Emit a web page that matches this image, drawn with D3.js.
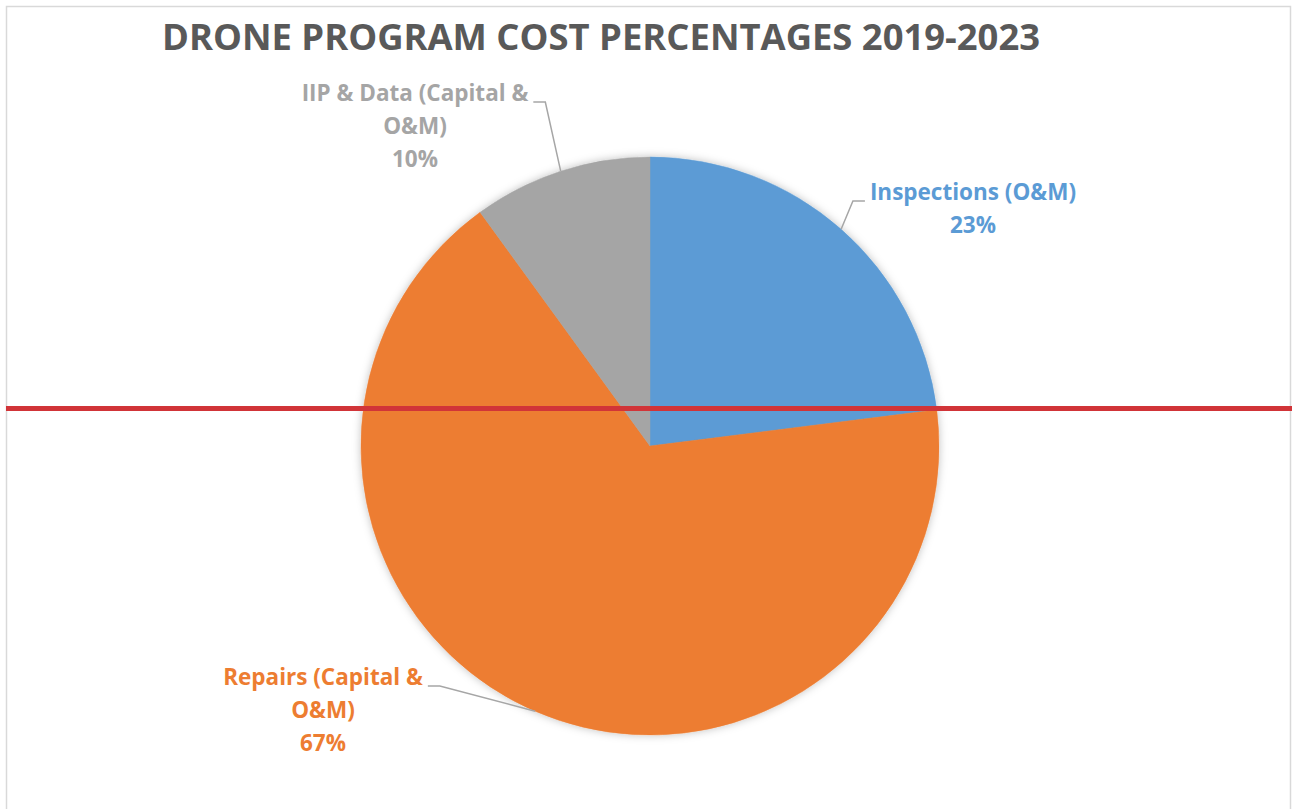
<!DOCTYPE html>
<html>
<head>
<meta charset="utf-8">
<script src="https://cdn.jsdelivr.net/npm/d3@7"></script>
<style>
  body { margin: 0; background: #fff; }
  text { font-family: "Open Sans", sans-serif; font-weight: bold; }
</style>
</head>
<body>
<svg id="chart" width="1292" height="809"></svg>
<script>
// chart data
var title = "DRONE PROGRAM COST PERCENTAGES 2019-2023";
var categories = ["Inspections (O&M)", "Repairs (Capital & O&M)", "IIP & Data (Capital & O&M)"];
var percents = [23, 67, 10];
var sliceColors = ["#5B9BD5", "#ED7D31", "#A5A5A5"];

// layout
var W = 1292, H = 809;
var cx = 650, cy = 446, R = 289;
var lineH = 33;
var wrapW = 240;
// label anchor: text center x, first baseline y, side of leader (+1 = leader on left of text)
var labelPos = [
  {x: 973, y: 200, side: 1},
  {x: 323, y: 685, side: -1},
  {x: 415, y: 101, side: -1}
];
var refY = 408.5;

var svg = d3.select("#chart");

var defs = svg.append("defs");
var f = defs.append("filter").attr("id", "shadow")
  .attr("x", "-10%").attr("y", "-10%").attr("width", "120%").attr("height", "120%");
f.append("feDropShadow").attr("dx", 0).attr("dy", 0).attr("stdDeviation", 4)
  .attr("flood-color", "#000").attr("flood-opacity", 0.25);

// chart area border
svg.append("rect")
  .attr("x", 6.5).attr("y", 6.5)
  .attr("width", 1284).attr("height", 820)
  .attr("fill", "none").attr("stroke", "#D9D9D9").attr("stroke-width", 1.5);

// title
svg.append("text")
  .attr("x", 601).attr("y", 50)
  .attr("text-anchor", "middle")
  .attr("font-size", 35)
  .attr("fill", "#595959")
  .attr("textLength", 878)
  .attr("lengthAdjust", "spacingAndGlyphs")
  .text(title);

var data = categories.map(function(c, i) {
  return {name: c, value: percents[i], color: sliceColors[i], pos: labelPos[i]};
});

var pie = d3.pie().sort(null).value(function(d) { return d.value; });
var arc = d3.arc().innerRadius(0).outerRadius(R);
var arcs = pie(data);

var g = svg.append("g").attr("transform", "translate(" + cx + "," + cy + ")");
g.append("g").attr("filter", "url(#shadow)")
  .selectAll("path")
  .data(arcs)
  .enter().append("path")
  .attr("d", arc)
  .attr("fill", function(d) { return d.data.color; })
  .attr("stroke", function(d) { return d.data.color; })
  .attr("stroke-width", 0.5);

// labels with wrapping
arcs.forEach(function(a) {
  var d = a.data;
  var t = svg.append("text")
    .attr("text-anchor", "middle")
    .attr("font-size", 22.5)
    .attr("fill", d.color);

  var words = d.name.split(" ");
  var lines = [], cur = "";
  var probe = t.append("tspan");
  words.forEach(function(w) {
    var test = cur ? cur + " " + w : w;
    probe.text(test);
    if (probe.node().getComputedTextLength() > wrapW && cur) {
      lines.push(cur);
      cur = w;
    } else {
      cur = test;
    }
  });
  lines.push(cur);
  lines.push(d3.format(".0f")(d.value) + "%");
  probe.remove();

  lines.forEach(function(l, k) {
    t.append("tspan")
      .attr("x", d.pos.x)
      .attr("y", d.pos.y + k * lineH)
      .text(l);
  });

  // leader line: slice edge at mid-angle -> elbow -> next to first line
  var firstW = t.select("tspan").node().getComputedTextLength();
  var mid = (a.startAngle + a.endAngle) / 2;
  var ex = cx + R * Math.sin(mid), ey = cy - R * Math.cos(mid);
  var endX = d.pos.x - d.pos.side * (firstW / 2 + 5);
  var elbowX = endX - d.pos.side * 12;
  var ly = d.pos.y + 1;
  svg.append("path")
    .attr("d", d3.line()([[ex, ey], [elbowX, ly], [endX, ly]]))
    .attr("fill", "none")
    .attr("stroke", "#A6A6A6")
    .attr("stroke-width", 1.5);
});

// red reference line
svg.append("line")
  .attr("x1", 6).attr("x2", W)
  .attr("y1", refY).attr("y2", refY)
  .attr("stroke", "#D13438")
  .attr("stroke-width", 5);
</script>
</body>
</html>
